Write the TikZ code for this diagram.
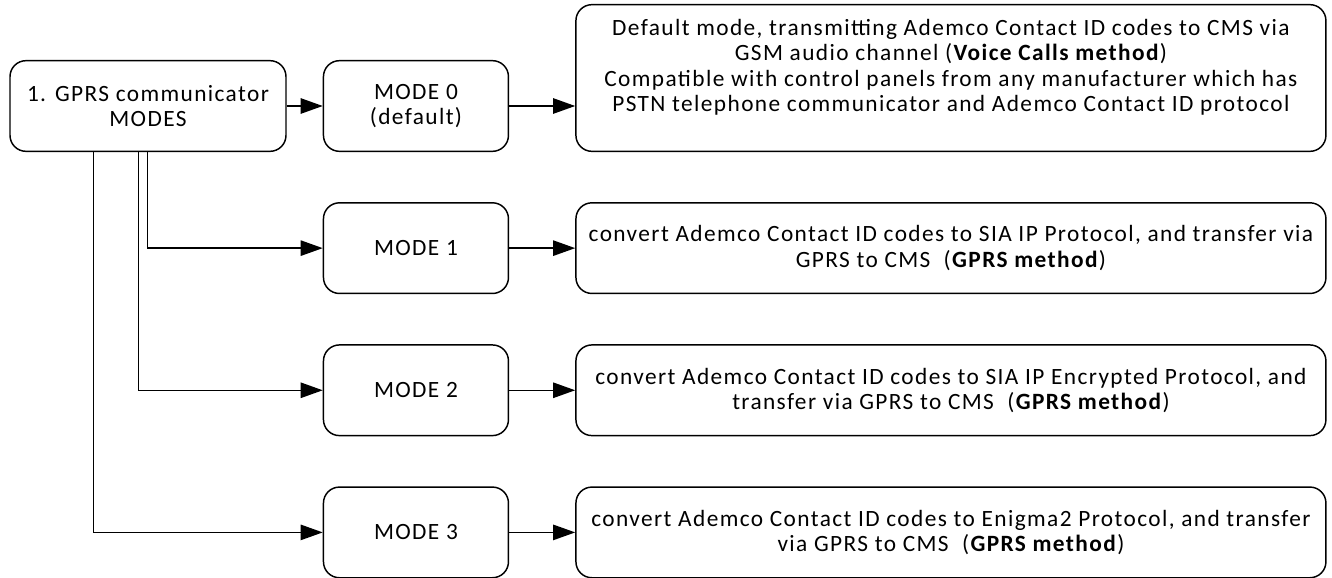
\documentclass[tikz,border=0pt]{standalone}
\usepackage{fontspec}
\setmainfont[LetterSpace=6]{Carlito}
\usetikzlibrary{arrows.meta,positioning,calc}

\begin{document}
\begin{tikzpicture}[->,>={Triangle[length=16.5pt,width=11.5pt]},line width=1.1pt,
										node distance=37.5pt and 27pt,
										font=\fontsize{17.5}{19}\selectfont]
	\tikzstyle{box}=[draw=black,rounded corners=12pt,align=center,minimum height=68pt,inner sep=2pt]
	\tikzstyle{modebox}=[box,minimum width=138.75pt]
	\tikzstyle{descbox}=[box,minimum width=562.5pt]

	\useasboundingbox (0,0) rectangle (999pt,-433.5pt);

	\node[box,minimum width=207pt] (gprs) at (111pt,-79.5pt) {1. GPRS communicator\\MODES};
	\node[modebox] (m0) [right=27pt of gprs] {MODE 0\\(default)};
	\node[modebox] (m1) [below=of m0] {MODE 1};
	\node[modebox] (m2) [below=of m1] {MODE 2};
	\node[modebox] (m3) [below=of m2] {MODE 3};

	\node[descbox,minimum height=110pt] (d0) [right=49.5pt of m0.south east,anchor=south west]
		{Default mode, transmitting Ademco Contact ID codes to CMS via\\
		 GSM audio channel (\textbf{Voice Calls method})\\
		 Compatible with control panels from any manufacturer which has\\
		 PSTN telephone communicator and Ademco Contact ID protocol\\\mbox{}};
	\node[descbox] (d1) [right=49.5pt of m1]
		{convert Ademco Contact ID codes to SIA IP Protocol, and transfer via\\
		 GPRS to CMS\ \ (\textbf{GPRS method})};
	\node[descbox] (d2) [right=49.5pt of m2]
		{convert Ademco Contact ID codes to SIA IP Encrypted Protocol, and\\
		 transfer via GPRS to CMS\ \ (\textbf{GPRS method})};
	\node[descbox] (d3) [right=49.5pt of m3]
		{convert Ademco Contact ID codes to Enigma2 Protocol, and transfer\\
		 via GPRS to CMS\ \ (\textbf{GPRS method})};

	\path (gprs) edge (m0)
				(m0.east) edge (m0.east -| d0.west)
				(m1) edge (d1)
				(m2) edge (d2)
				(m3) edge (d3);

	% branches leaving the bottom of the first box
	\draw ($(gprs.south west)+(103.5pt,0)$) |- (m1);
	\draw ($(gprs.south west)+(96.75pt,0)$) |- (m2);
	\draw ($(gprs.south west)+(63pt,0)$) |- (m3);
\end{tikzpicture}
\end{document}
